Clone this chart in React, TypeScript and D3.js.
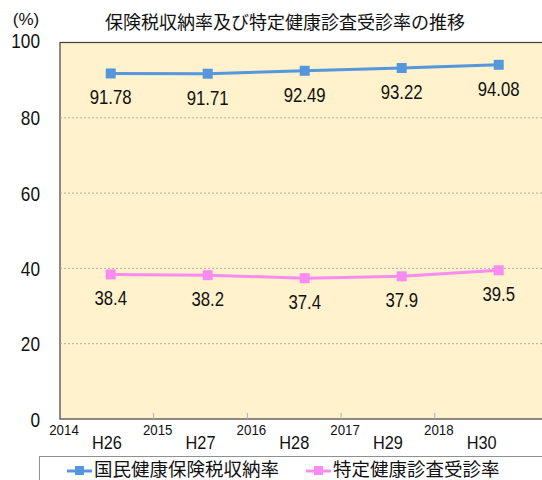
import React from 'react';
import * as d3 from 'd3';

const categories = ['H26', 'H27', 'H28', 'H29', 'H30'];
const years = [2014, 2015, 2016, 2017, 2018];
const taxRate = [91.78, 91.71, 92.49, 93.22, 94.08];
const checkupRate = [38.4, 38.2, 37.4, 37.9, 39.5];
const yTicks = [0, 20, 40, 60, 80, 100];

const title = '保険税収納率及び特定健康診査受診率の推移';
const seriesNames = ['国民健康保険税収納率', '特定健康診査受診率'];

const numFont = '"Liberation Sans", Arial, sans-serif';
const jpFont = '"Noto Sans CJK JP", sans-serif';

const W = 542;
const H = 480;
const left = 60;
const top = 42.5;
const bottom = 419;
const right = 528.5;

// narrow-looking text: the original uses a condensed gothic face
const NText = ({ x, y, size, sx = 0.86, anchor = 'middle', base, children }: any) => (
  <g transform={`translate(${x},${y}) scale(${sx},1)`}>
    <text x={0} y={0} fontFamily={numFont} fontSize={size} textAnchor={anchor} dominantBaseline={base} fill="#111">
      {children}
    </text>
  </g>
);

const App = () => {
  const y = d3.scaleLinear().domain([0, 100]).range([bottom, top]);
  const yearX = d3.scaleLinear().domain([2014, 2019]).range([left, right]);
  const catX = d3.scaleBand().domain(categories).range([left, right]);
  const ptX = d3.scalePoint().domain(categories).range([110.7, 498.7]);

  const line = d3
    .line<number>()
    .x((_, i) => ptX(categories[i]) as number)
    .y((d) => y(d));

  const series = [
    { name: seriesNames[0], values: taxRate, color: '#5596dc', digits: 2 },
    { name: seriesNames[1], values: checkupRate, color: '#f98cf0', digits: 1 },
  ];

  return (
    <svg width={W} height={H} style={{ position: 'absolute', left: 0, top: 0 }}>
      <rect x={0} y={0} width={W} height={H} fill="#fff" />
      <text x={285} y={21} fontFamily={jpFont} fontSize={18} textAnchor="middle" dominantBaseline="central" fill="#111">
        {title}
      </text>
      <NText x={26} y={19} size={17} sx={1} base="central">
        (%)
      </NText>

      {/* plot area */}
      <rect x={left} y={top} width={W - left + 2} height={bottom - top} fill="#fff2cc" stroke="#404040" strokeWidth={1.2} />

      {yTicks
        .filter((t) => t > 0 && t < 100)
        .map((t) => (
          <line key={t} x1={left} x2={W} y1={y(t)} y2={y(t)} stroke="#9a9a9a" strokeWidth={0.8} strokeDasharray="2,2" />
        ))}

      {yTicks.map((t) => (
        <NText key={t} x={40} y={t === 100 ? y(t) + 5 : y(t) + 7.5} size={21} sx={0.82} anchor="end">
          {t}
        </NText>
      ))}

      {years.map((yr) => (
        <g key={yr}>
          {yr > 2014 && <line x1={yearX(yr)} x2={yearX(yr)} y1={bottom} y2={bottom - 6} stroke="#b0b0b0" strokeWidth={1} />}
          <NText x={yearX(yr) + 4} y={435} size={14} sx={0.95}>
            {yr}
          </NText>
        </g>
      ))}

      {categories.map((c) => (
        <NText key={c} x={(catX(c) as number) + catX.bandwidth() / 2} y={449} size={19} sx={0.86}>
          {c}
        </NText>
      ))}

      {series.map((s) => (
        <g key={s.name}>
          <path d={line(s.values) as string} fill="none" stroke={s.color} strokeWidth={3} />
          {s.values.map((v, i) => (
            <rect key={i} x={(ptX(categories[i]) as number) - 5} y={y(v) - 5} width={10} height={10} fill={s.color} />
          ))}
          {s.values.map((v, i) => (
            <NText key={'l' + i} x={ptX(categories[i]) as number} y={y(v) + 31} size={19.5} sx={0.86}>
              {v.toFixed(s.digits)}
            </NText>
          ))}
        </g>
      ))}

      {/* legend */}
      <rect x={39.5} y={456.5} width={W} height={40} fill="#fff" stroke="#909090" strokeWidth={1} />
      {series.map((s, i) => {
        const lx = i === 0 ? 67 : 306;
        return (
          <g key={'lg' + i}>
            <line x1={lx} x2={lx + 25} y1={471} y2={471} stroke={s.color} strokeWidth={3} />
            <rect x={lx + 8} y={466} width={9} height={9} fill={s.color} />
            <text x={lx + 27} y={476} fontFamily={jpFont} fontSize={18.5} fill="#111">
              {s.name}
            </text>
          </g>
        );
      })}
    </svg>
  );
};

export default App;
